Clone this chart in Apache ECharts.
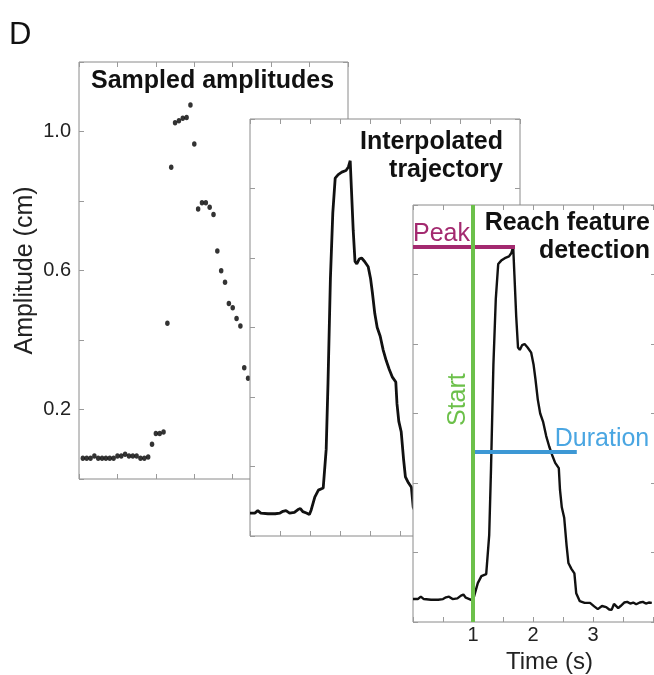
<!DOCTYPE html>
<html><head><meta charset="utf-8">
<script src="https://cdn.jsdelivr.net/npm/echarts@6/dist/echarts.min.js"></script>
<style>html,body{margin:0;padding:0;background:#fff}#c{width:654px;height:675px}</style>
</head><body><div id="c"></div>
<script>
// ---- data ----
const sampleIndex = [1,2,3,4,5,6,7,8,9,10,11,12,13,14,15,16,17,18,19,20,21,22,23,24,25,26,27,28,29,30,31,32,33,34,35,36,37,38,39,40,41,42,43,44];
const sampleAmplitude = [0.060,0.060,0.060,0.066,0.060,0.060,0.060,0.060,0.060,0.066,0.066,0.071,0.066,0.066,0.066,0.060,0.060,0.063,
  0.100,0.131,0.131,0.135,0.448,0.897,1.025,1.031,1.038,1.040,1.076,0.964,0.777,0.795,0.795,0.782,0.761,0.656,0.599,0.566,0.505,0.493,0.462,0.440,0.320,0.290];
const trajTime = [0.00,0.08,0.13,0.18,0.30,0.42,0.50,0.55,0.60,0.66,0.74,0.80,0.84,0.88,0.94,0.99,1.02,1.08,1.14,1.22,1.25,1.27,1.30,1.34,1.38,1.42,1.47,1.53,1.60,1.64,1.67,1.69,1.72,1.75,1.78,1.82,1.86,1.91,1.97,2.01,2.04,2.08,2.12,2.17,2.22,2.27,2.32,2.37,2.43,2.45,2.48,2.52,2.56,2.59,2.64,2.69,2.72,2.78,2.86,2.95,3.02,3.08,3.15,3.22,3.27,3.31,3.35,3.38,3.42,3.46,3.52,3.57,3.62,3.67,3.72,3.78,3.83,3.88,3.93,3.98];
const trajAmplitude = [0.066,0.066,0.073,0.066,0.064,0.064,0.066,0.071,0.073,0.066,0.068,0.076,0.079,0.070,0.066,0.062,0.075,0.112,0.132,0.138,0.140,0.250,0.440,0.740,0.930,1.030,1.040,1.047,1.052,1.062,1.080,1.000,0.880,0.790,0.783,0.797,0.800,0.790,0.775,0.740,0.700,0.640,0.600,0.575,0.535,0.505,0.480,0.458,0.443,0.380,0.330,0.300,0.220,0.170,0.153,0.140,0.083,0.060,0.055,0.055,0.045,0.037,0.046,0.043,0.036,0.035,0.052,0.055,0.040,0.046,0.056,0.058,0.053,0.056,0.051,0.056,0.058,0.053,0.056,0.055];
const peakTime = 1.70, peakAmplitude = 1.08;
const startTime = 1.0;
const durationEnd = 2.73, durationLevel = 0.49;
const amplitudeTickLabels = [0.2, 0.6, 1.0];
const timeTickLabels = [1, 2, 3];

// ---- layout / style ----
const FONT = '"Liberation Sans", Arial, Helvetica, sans-serif';
const panels = [
  {left:79,  top:62,  width:269, height:417, xMax:70,   xInt:10},
  {left:250, top:119, width:270, height:417, xMax:4.5,  xInt:0.5},
  {left:413, top:205, width:243, height:417, xMax:4.05, xInt:0.5}
];
const PURPLE = '#a3296f', GREEN = '#6cc04a', BLUE = '#3d98d5';
const mkTick = () => ({show:true, inside:true, length:5, lineStyle:{color:'#9a9a9a', width:1}});

const grid = panels.map((p,i)=>({left:p.left, top:p.top, width:p.width, height:p.height,
  show:true, backgroundColor:'#fff', borderColor:'#8a8a8a', borderWidth:1, zlevel:i, z:0,
  containLabel:false, outerBoundsMode:'none'}));

const xAxis = [], yAxis = [];
panels.forEach((p,i)=>{
  ['bottom','top'].forEach(pos=>{
    const ax = {type:'value', gridIndex:i, position:pos, min:0, max:p.xMax, interval:p.xInt, zlevel:i, z:1,
      axisLine:{show:false, onZero:false}, axisTick:mkTick(), splitLine:{show:false}, axisLabel:{show:false}};
    if (i===2 && pos==='bottom') {
      ax.axisLabel = {show:true, margin:3, fontSize:20, color:'#222', fontFamily:FONT,
        formatter: v => timeTickLabels.some(t=>Math.abs(t-v)<1e-9) ? String(v) : ''};
      ax.name = 'Time (s)'; ax.nameLocation = 'middle'; ax.nameGap = 17;
      ax.nameTextStyle = {fontSize:24, color:'#222', fontFamily:FONT, padding:[0,0,0,30]};
    }
    xAxis.push(ax);
  });
  ['left','right'].forEach(pos=>{
    const ay = {type:'value', gridIndex:i, position:pos, min:0, max:1.2, interval:0.2, zlevel:i, z:1,
      axisLine:{show:false, onZero:false}, axisTick:mkTick(), splitLine:{show:false}, axisLabel:{show:false}};
    if (i===0 && pos==='left') {
      ay.axisLabel = {show:true, margin:8, fontSize:20, color:'#222', fontFamily:FONT,
        formatter: v => amplitudeTickLabels.some(t=>Math.abs(t-v)<1e-9) ? v.toFixed(1) : ''};
      ay.name = 'Amplitude (cm)'; ay.nameLocation = 'middle'; ay.nameGap = 41;
      ay.nameTextStyle = {fontSize:25, color:'#222', fontFamily:FONT};
    }
    yAxis.push(ay);
  });
});

const traj = trajTime.map((t,k)=>[t, trajAmplitude[k]]);

const series = [
  {type:'scatter', xAxisIndex:0, yAxisIndex:0, zlevel:0, z:2, symbol:'circle', symbolSize:[4.5,5.5],
   itemStyle:{color:'#000'}, data: sampleIndex.map((x,k)=>[x, sampleAmplitude[k]])},
  {type:'line', xAxisIndex:2, yAxisIndex:2, zlevel:1, z:2, showSymbol:false, symbol:'none',
   lineStyle:{color:'#111', width:2.8}, data: traj},
  {type:'line', xAxisIndex:4, yAxisIndex:4, zlevel:2, z:2, showSymbol:false, symbol:'none',
   lineStyle:{color:'#111', width:2.4}, data: traj,
   markLine:{silent:true, zlevel:2, z:5, symbol:['none','none'], animation:false, label:{show:false},
     data:[
       [{coord:[0, peakAmplitude], lineStyle:{color:PURPLE, width:4, type:'solid'},
         label:{show:true, position:'insideStartTop', formatter:'Peak', color:PURPLE, fontSize:25, fontFamily:FONT, distance:0}},
        {coord:[peakTime, peakAmplitude]}],
       [{coord:[startTime, durationLevel], lineStyle:{color:BLUE, width:4, type:'solid'}, label:{show:false}},
        {coord:[durationEnd, durationLevel]}],
       {xAxis:startTime, lineStyle:{color:GREEN, width:4, type:'solid'}, label:{show:false}}
     ]},
   markPoint:{silent:true, zlevel:2, z:6, animation:false, symbol:'circle', symbolSize:1, itemStyle:{color:'rgba(0,0,0,0)'},
     data:[
       {coord:[startTime-0.25, 0.64], label:{show:true, formatter:'Start', rotate:90, position:'inside', color:GREEN, fontSize:25, fontFamily:FONT}},
       {coord:[3.15, durationLevel], label:{show:true, formatter:'Duration', position:'top', distance:0, color:'#4aa6e2', fontSize:25, fontFamily:FONT}}
     ]}
  }
];

const graphic = [
  {type:'text', x:9, y:20, zlevel:0, z:10, style:{text:'D', font:'31px '+FONT, fill:'#111', verticalAlign:'top'}},
  {type:'text', x:91, y:69, zlevel:0, z:10, style:{text:'Sampled amplitudes', font:'bold 25px '+FONT, fill:'#111', verticalAlign:'top'}},
  {type:'text', x:503, y:128, zlevel:1, z:10, style:{text:'Interpolated\ntrajectory', font:'bold 25px '+FONT, fill:'#111', align:'right', verticalAlign:'top', lineHeight:28}},
  {type:'text', x:650, y:209, zlevel:2, z:10, style:{text:'Reach feature\ndetection', font:'bold 25px '+FONT, fill:'#111', align:'right', verticalAlign:'top', lineHeight:28}}
];

const chart = echarts.init(document.getElementById('c'), null, {renderer:'canvas'});
chart.setOption({backgroundColor:'#fff', animation:false, grid, xAxis, yAxis, series, graphic});
</script></body></html>
